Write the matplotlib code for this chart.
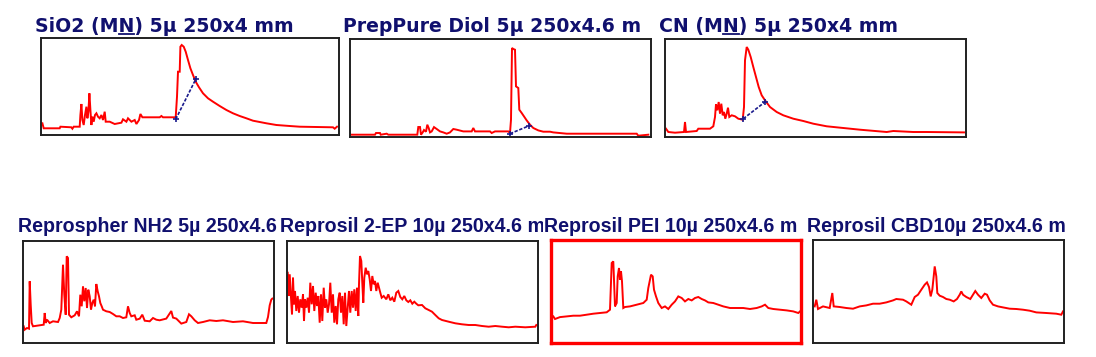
import matplotlib
matplotlib.use("Agg")
import matplotlib.pyplot as plt
from matplotlib.transforms import Bbox
from matplotlib.lines import Line2D

W, H, DPI = 1096, 357, 100

# ---------------- data ----------------
# titles as far as they are visible (each one is cut where the next begins)
titles = [
    "SiO2 (MN) 5µ 250x4 mm",
    "PrepPure Diol 5µ 250x4.6 m",
    "CN (MN) 5µ 250x4 mm",
    "Reprospher NH2 5µ 250x4.6",
    "Reprosil 2-EP 10µ 250x4.6 m",
    "Reprosil PEI 10µ 250x4.6 m",
    "Reprosil CBD10µ 250x4.6 m",
]

# traces: (time, signal)
p1_trace = [(1.4, 11.7), (2.7, 6.7), (18.7, 6.7), (19.4, 8.3), (30.4, 7.7), (31.4, 6.3), (32.7, 8.3),
            (38.7, 8.3), (39.4, 20.0), (40.4, 31.0), (41.4, 15.0), (42.7, 10.0), (44.0, 20.0), (45.4, 28.3),
            (46.4, 16.7), (47.4, 23.3), (48.4, 41.7), (49.4, 25.0), (50.4, 10.0), (51.4, 18.3), (52.7, 13.3),
            (54.0, 20.0), (55.4, 21.7), (57.0, 18.3), (58.7, 16.7), (60.4, 20.0), (62.0, 15.0), (63.7, 23.3),
            (64.7, 13.3), (68.7, 13.3), (73.7, 11.0), (80.4, 12.3), (82.0, 15.7), (85.4, 13.3), (87.0, 16.7),
            (90.4, 13.3), (93.7, 15.0), (95.4, 11.0), (98.0, 15.0), (99.4, 21.0), (101.4, 17.7), (105.4, 17.7),
            (118.7, 17.7), (120.4, 19.0), (122.0, 17.7), (134.7, 17.7), (136.0, 38.3), (137.0, 63.3),
            (138.7, 63.3), (139.4, 88.3), (140.7, 90.0), (142.7, 88.3), (144.7, 83.3), (147.0, 75.0),
            (149.4, 66.7), (152.0, 60.0), (154.7, 53.3), (158.0, 47.7), (162.0, 41.7), (167.0, 36.7),
            (172.0, 33.3), (178.7, 29.0), (185.4, 25.0), (192.0, 21.7), (198.7, 19.0), (205.4, 16.7),
            (212.0, 14.3), (218.7, 13.0), (225.4, 11.7), (235.4, 10.0), (248.7, 9.0), (258.7, 8.3),
            (275.4, 8.0), (292.0, 7.7), (293.7, 6.3), (296.0, 8.3)]
p1_base = [(134.7, 15.7), (154.7, 55.7)]

p2_trace = [(0.7, 2.3), (25, 2.3), (26, 4), (30, 4), (30.7, 2.3), (36.7, 3.3), (38.3, 2.3), (67.3, 2.3),
            (68.3, 10), (70, 10), (71, 2.3), (72.7, 4.6), (74, 7), (76, 5.3), (77.3, 12.3), (78.7, 9),
            (80, 4.6), (81.7, 5.6), (84, 9.9), (86.7, 8), (90, 5.6), (93.3, 4.6), (96.7, 3.3), (100, 4.6),
            (103.3, 8), (106.7, 7.3), (113.3, 5.6), (121.7, 5.6), (123.3, 9), (125, 5.6), (140, 5.6),
            (141.7, 4), (145, 5.6), (158.3, 5.6), (160, 4), (161, 17.3), (162, 89), (163.3, 88), (165, 87.3),
            (166, 50.6), (168.3, 49), (169.3, 27.3), (171.7, 24), (174, 20.6), (176.7, 16.6), (180, 12.3),
            (183.3, 9), (188.3, 6.6), (193.3, 5.3), (200, 5.3), (203.3, 4.6), (216.7, 3.3), (243.3, 3.3),
            (286.7, 3.3), (288.3, 1.3), (298.3, 2.3)]
p2_base = [(160, 3.3), (179.3, 11.3)]

p3_trace = [(1, 8.3), (3.3, 5), (10, 4.3), (19, 5), (20, 15), (21, 5), (31.7, 6), (33.3, 8.3), (45, 8.3),
            (48.3, 10.7), (50, 20), (51, 32.7), (52.3, 26.7), (53.7, 35), (55, 23.3), (56.3, 33.3),
            (57.7, 21.7), (59, 25), (60.3, 18.3), (61.7, 23.3), (63, 29.3), (64.3, 20), (66.7, 21.7),
            (70, 20.7), (73.3, 18.3), (77.7, 17.3), (79, 30), (80, 76.7), (81.7, 90), (83.3, 87.3),
            (85.7, 80), (88.3, 70), (91, 60), (93.7, 50), (96.7, 41.7), (100, 36.7), (105, 30), (111.7, 25),
            (118.3, 21.7), (128.3, 18.3), (138.3, 16), (148.3, 13.3), (161.7, 10.7), (178.3, 9), (195, 7.3),
            (221.7, 5), (228.3, 6), (248.3, 5), (261.7, 5), (299, 4.6)]
p3_base = [(78.3, 18.3), (100, 35)]

p4_trace = [(0.7, 16.7), (1.7, 13.3), (4, 15), (6, 14.3), (6.7, 61.7), (7.7, 38.3), (8.7, 20), (10, 16.7),
            (20.7, 18.3), (21.7, 30), (22.7, 20), (24, 23.3), (26.7, 20), (30, 21.7), (35, 21), (36.7, 25),
            (38.3, 33.3), (40, 78.3), (41.3, 48.3), (42.7, 28.3), (43.7, 86.7), (45, 85), (46, 28.3),
            (48.3, 25.7), (51.7, 27.7), (54, 31.7), (56, 26.7), (57.3, 48.3), (58.7, 36.7), (60, 56.7),
            (61.3, 41.7), (62.7, 55), (64, 35), (65.3, 53.3), (66.7, 46.7), (68, 33.3), (69.3, 40),
            (70.7, 43.3), (72, 36.7), (73.3, 59), (74.7, 51.7), (76, 46.7), (77.3, 40), (78.7, 36.7),
            (80, 33.3), (83.3, 31.7), (86.7, 31), (90, 29), (93.3, 26.7), (96.7, 26.7), (100, 25),
            (103.3, 25.7), (105, 36.7), (106.7, 30), (108.3, 26.7), (111.7, 27.7), (113.3, 23.3),
            (116.7, 24.3), (119.3, 28.3), (121.7, 22.3), (126.7, 21.7), (130, 25), (133.3, 23.3),
            (136.7, 22.7), (143.3, 24.4), (148.3, 32), (150, 25.4), (153.3, 24.4), (158.3, 19.4),
            (163.3, 21), (166, 28.7), (168.3, 26.7), (171.7, 22.7), (175, 20), (180, 21), (186.7, 22.7),
            (193.3, 22), (200, 22.7), (210, 21), (220, 21.7), (230, 20), (243.3, 20), (245, 26),
            (246.7, 37.7), (248.3, 43.4), (249.3, 44.4)]

p5_trace = [(0.7, 70.3), (1.7, 47), (2.7, 68.7), (4, 45.3), (5, 28.7), (6, 65.3), (7, 38.7), (8, 52),
            (9.3, 32), (10.7, 47), (12, 30.3), (13.3, 43.7), (14.7, 35.3), (16, 48.7), (17, 22), (18, 43.7),
            (19.3, 35.3), (20.7, 45.3), (22, 30.3), (23.3, 60.3), (24.7, 38.7), (26, 57), (27.3, 32),
            (28.7, 50.3), (30, 37), (31.3, 47), (32.7, 20.3), (34, 48.7), (35.3, 22), (36.7, 55.3), (38, 35.3),
            (39.3, 43.7), (40.7, 30.3), (42, 38.7), (43.3, 60.3), (44.7, 30.3), (46, 48.7), (47.3, 20.3),
            (48.7, 37), (50, 18.7), (51.3, 43.7), (52.7, 50.3), (54, 30.3), (55.3, 47), (56.7, 18.7),
            (58, 50.3), (59.3, 17), (60.7, 35.3), (62, 52), (63.3, 30.3), (64.7, 52), (66, 35.3), (67.3, 53.7),
            (68.7, 32), (70, 55.3), (71.3, 27), (72, 58.7), (73, 87), (74.3, 82), (75.3, 60.3), (76.3, 40.3),
            (77.3, 65.3), (78.7, 75.3), (80, 68.7), (81.3, 72), (82.7, 63.7), (84, 52), (85.3, 67),
            (86.7, 58.7), (88, 62), (89.3, 52), (90.7, 60.3), (92, 55.3), (93.3, 50.3), (94.7, 45.3),
            (96.7, 47), (99.3, 43.7), (101.3, 48.7), (103.3, 42.7), (105.3, 45.3), (107.3, 41.3),
            (109.3, 50.3), (111.3, 52), (113.3, 46), (115.3, 43.7), (117.3, 47), (119.3, 42.7), (121.3, 41),
            (123.3, 42.7), (125.3, 39.3), (127.3, 41.3), (129.3, 39.3), (131.3, 37.7), (135, 38),
            (138.3, 34.7), (141.7, 33), (145, 31.3), (148.3, 28), (151.7, 24.7), (155, 23), (161.7, 21.3),
            (168.3, 19.7), (175, 18.7), (181.7, 18), (188.3, 18), (195, 17), (201.7, 16.3), (208.3, 17),
            (215, 16.3), (221.7, 15.7), (228.3, 16.3), (238.3, 15.7), (248.3, 16.3), (249.3, 18)]

p6_trace = [(2.3, 26.6), (4, 24), (9, 25.9), (15.7, 26.6), (22.3, 27.3), (29, 27.3), (35.7, 28.3),
            (42.3, 29.3), (49, 30), (55.7, 30.7), (59, 33.3), (60.7, 80), (62.3, 81.6), (64, 36.6),
            (65.7, 40), (66.7, 66.6), (68, 75), (69, 63.3), (70, 71.6), (71, 61.6), (72.3, 35), (74, 36),
            (79, 36.6), (85.7, 38.3), (92.3, 40), (95.7, 43.3), (97.3, 55), (100, 68.3), (101.7, 66.6),
            (103, 53.3), (105, 46.6), (107.3, 40), (110.7, 35), (114, 36.6), (117.3, 34), (120.7, 38.3),
            (124, 41.6), (127.3, 46.6), (130.7, 45), (134, 41.6), (137.3, 44), (140.7, 42.6), (144, 45),
            (147.3, 46), (150.7, 44), (154, 42.6), (157.3, 40.6), (162.3, 40), (167.3, 38.3), (172.3, 36.6),
            (179, 35), (185.7, 35), (192.3, 35), (199, 34), (205.7, 35), (210.7, 36.6), (214, 38.3),
            (217.3, 35), (222.3, 34), (229, 33.3), (235.7, 32.6), (242.3, 31.6), (247.3, 30), (249, 31.6)]

p7_trace = [(1.7, 36.6), (3.3, 43.3), (5, 34), (10, 36.6), (16.7, 35), (19.3, 50), (20.7, 36.6),
            (26.7, 36), (33.3, 35), (40, 34.3), (46.7, 36.6), (53.3, 37.6), (60, 39.3), (66.7, 39.3),
            (73.3, 40.6), (80, 42.6), (83.3, 44), (90, 43.3), (93.3, 41.6), (98.3, 38.3), (101.7, 46),
            (105, 48.3), (108.3, 53.3), (111.7, 58.3), (114, 60.6), (116, 56), (117.7, 46.6), (119.3, 53.3),
            (120.7, 66.6), (121.7, 76.6), (123.3, 66.6), (124.3, 50), (126.7, 47.3), (130, 46), (133.3, 44),
            (136.7, 43.3), (140.7, 41.6), (144, 44), (146.7, 48.3), (148.3, 51.6), (150, 48.3), (153.3, 46),
            (157.3, 44), (160, 48.3), (162.3, 52), (165, 48.3), (168.3, 45), (171.7, 49.3), (174, 48.3),
            (176.7, 42.6), (180, 38.3), (185, 36.6), (190, 35.6), (196.7, 34.3), (203.3, 34), (210, 33.3),
            (216.7, 32.3), (223.3, 30.6), (233.3, 30), (243.3, 29.3), (248.3, 28.3), (250, 31.6)]

traces = [p1_trace, p2_trace, p3_trace, p4_trace, p5_trace, p6_trace, p7_trace]
baselines = [p1_base, p2_base, p3_base, None, None, None, None]
selected_panel = 5

# ---------------- layout (pixels) ----------------
panel_boxes = [(41, 38, 298, 97), (350, 39, 301, 98), (665, 39, 301, 98),
               (23, 241, 251, 102), (287, 241, 251, 102), (551, 240, 250, 103), (813, 240, 251, 103)]
# (x, baseline y, clip right, font family, size)
title_pos = [(35, 31.5, 658, "DejaVu Sans", 13.6), (343, 31.5, 658, "DejaVu Sans", 13.6),
             (659, 31.5, 1096, "DejaVu Sans", 13.6),
             (18, 232.5, 279, "Liberation Sans", 14.1), (280, 232.5, 543, "Liberation Sans", 14.1),
             (544, 232.5, 806, "Liberation Sans", 14.1), (807, 232.5, 1070, "Liberation Sans", 14.1)]

TITLE_COLOR = "#10106e"
RED = "#ff0000"
NAVY = "#1a1a8c"

fig = plt.figure(figsize=(W / DPI, H / DPI), dpi=DPI)
fig.patch.set_facecolor("white")

for i, (l, t, w, h) in enumerate(panel_boxes):
    ax = fig.add_axes([l / W, 1 - (t + h) / H, w / W, h / H])
    xs = [p[0] for p in traces[i]]
    ys = [p[1] for p in traces[i]]
    ax.plot(xs, ys, color=RED, lw=1.4, solid_joinstyle="miter")
    if baselines[i] is not None:
        bx = [p[0] for p in baselines[i]]
        by = [p[1] for p in baselines[i]]
        ax.plot(bx, by, color=NAVY, lw=1.2, ls=(0, (2, 1)), marker="+", ms=4, mew=1.2)
    ax.set_xlim(0, w)
    ax.set_ylim(0, h)
    ax.set_xticks([])
    ax.set_yticks([])
    for s in ax.spines.values():
        if i == selected_panel:
            s.set_color(RED)
            s.set_linewidth(2.4)
        else:
            s.set_color("#202020")
            s.set_linewidth(1.4)

renderer = fig.canvas.get_renderer()
for i, (x, yb, xclip, fam, fs) in enumerate(title_pos):
    txt = fig.text(x / W, 1 - yb / H, titles[i], fontsize=fs, fontweight="bold",
                   color=TITLE_COLOR, ha="left", va="baseline", family=fam)
    txt.set_clip_box(Bbox.from_extents(x - 2, 0, xclip, H))
    txt.set_clip_on(True)
    k = titles[i].find("(MN)")
    if k >= 0:
        pre = fig.text(x / W, 1 - yb / H, titles[i][:k + 2], fontsize=fs, fontweight="bold",
                       family=fam, va="baseline")
        full = fig.text(x / W, 1 - yb / H, titles[i][:k + 3], fontsize=fs, fontweight="bold",
                        family=fam, va="baseline")
        x0 = pre.get_window_extent(renderer).x1
        x1 = full.get_window_extent(renderer).x1
        pre.remove()
        full.remove()
        uy = 1 - (yb + 2) / H
        fig.add_artist(Line2D([x0 / W, x1 / W], [uy, uy], transform=fig.transFigure,
                              color=TITLE_COLOR, lw=1.3))

fig.savefig("out.png", dpi=DPI, facecolor="white")
